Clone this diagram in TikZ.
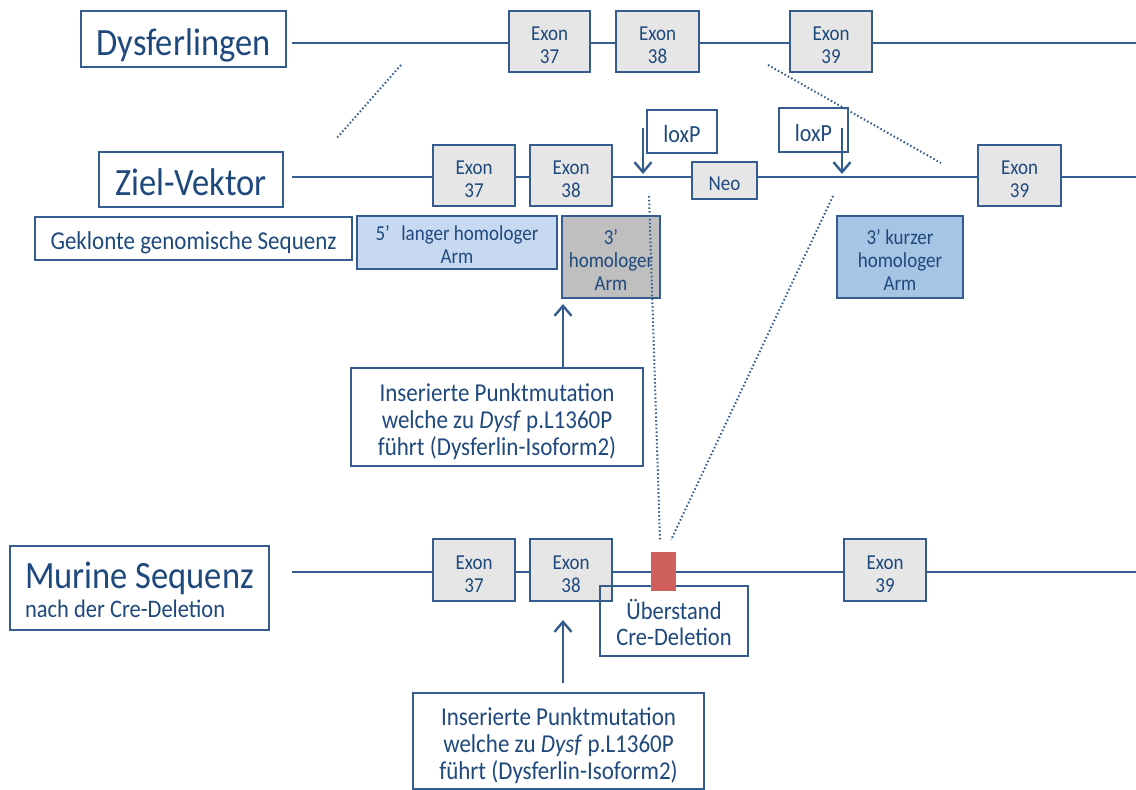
\documentclass[tikz,border=0pt]{standalone}
\usepackage{fontspec}
\usepackage{graphicx}
\setmainfont{Carlito}
\usetikzlibrary{arrows.meta}
\definecolor{bstroke}{RGB}{52,92,142}
\definecolor{btext}{RGB}{31,73,125}
\definecolor{exfill}{RGB}{230,230,230}
\definecolor{lblue}{RGB}{198,217,240}
\definecolor{mblue}{RGB}{166,196,228}
\definecolor{gfill}{RGB}{191,191,191}
\definecolor{rfill}{RGB}{208,96,92}
% text slightly stretched vertically and set a little low, as in the reference
\newcommand\vs[2][6pt]{\raisebox{-#1}[\height][\depth]{\scalebox{1}[1.12]{\begin{tabular}{@{}c@{}}#2\end{tabular}}}}
\newcommand\vsl[2][6.5pt]{\raisebox{-#1}[\height][\depth]{\scalebox{1}[1.12]{\begin{tabular}{@{}l@{}}#2\end{tabular}}}}
\tikzset{
  box/.style={draw=bstroke, line width=2.3pt, inner sep=0pt, text=btext, align=center},
  exon/.style={box, fill=exfill, font=\fontsize{19}{20.5}\selectfont},
  title/.style={box, fill=white, font=\fontsize{34.5}{34}\selectfont},
  note/.style={box, fill=white, font=\fontsize{23}{24.5}\selectfont},
  arm/.style={box, font=\fontsize{19}{20.5}\selectfont},
  lox/.style={box, fill=white, font=\fontsize{22}{24}\selectfont},
  gene/.style={draw=bstroke, line width=2.2pt},
  dots/.style={draw=bstroke, line width=2pt, dash pattern=on 1.5pt off 2.3pt},
  arr/.style={draw=bstroke, line width=2.4pt, -{Straight Barb[length=10pt,width=17pt]}},
}
\begin{document}
\begin{tikzpicture}[x=1pt,y=-1pt]
\fill[white] (0,0) rectangle (1136,790);
\useasboundingbox (0,0) rectangle (1136,790);
% gene line end points
\coordinate (l1s) at (292,43);  \coordinate (l1e) at (1136,43);
\coordinate (l2s) at (292,177); \coordinate (l2e) at (1136,177);
\coordinate (l4s) at (292,572); \coordinate (l4e) at (1136,572);
\draw[gene] (l1s) -- (l1e);
\draw[gene] (l2s) -- (l2e);
\draw[gene] (l4s) -- (l4e);
% row 1
\node[title, minimum width=205pt, minimum height=56pt] (dysf) at (183.5,39) {\vs[8.5pt]{Dysferlingen}};
\node[exon, minimum width=81pt, minimum height=61pt] (e37a) at (549.5,41.5) {\vs{Exon\\37}};
\node[exon, minimum width=83pt, minimum height=61pt] (e38a) at (657.5,41.5) {\vs{Exon\\38}};
\node[exon, minimum width=82pt, minimum height=61pt] (e39a) at (831,41.5) {\vs{Exon\\39}};
% row 2
\node[title, minimum width=184pt, minimum height=55pt] (ziel) at (191,179.5) {\vs[8.5pt]{Ziel-Vektor}};
\node[exon, minimum width=82pt, minimum height=61pt] (e37b) at (474,175.5) {\vs{Exon\\37}};
\node[exon, minimum width=82pt, minimum height=61pt] (e38b) at (571,175.5) {\vs{Exon\\38}};
\node[lox, minimum width=70pt, minimum height=43pt] (lox1) at (682,131.5) {\vs{loxP}};
\node[exon, minimum width=65pt, minimum height=37pt] (neo) at (724.5,180.5) {\vs[5pt]{Neo}};
\node[lox, minimum width=69pt, minimum height=44pt] (lox2) at (813.5,130) {\vs{loxP}};
\node[exon, minimum width=83pt, minimum height=61pt] (e39b) at (1019.5,175.5) {\vs{Exon\\39}};
% row 3
\node[note, minimum width=317pt, minimum height=43pt] (gekl) at (193.5,238.5) {\vs{Geklonte genomische Sequenz}};
\node[arm, fill=lblue, minimum width=200pt, minimum height=53pt] (arm5) at (457,242.5) {\vs[5pt]{5’\hspace{0.6em}langer homologer\\Arm}};
\node[arm, fill=gfill, minimum width=98pt, minimum height=82pt] (arm3) at (611,257) {\vs{3’\\homologer\\Arm}};
\node[arm, fill=mblue, minimum width=126pt, minimum height=82pt] (armk) at (900,257) {\vs{3’ kurzer\\homologer\\Arm}};
\node[note, minimum width=292pt, minimum height=98pt] (ins1) at (497,417) {\vs{Inserierte Punktmutation\\welche zu \textit{Dysf} p.L1360P\\führt (Dysferlin-Isoform2)}};
% row 4
\node[box, fill=white, minimum width=259pt, minimum height=84pt, font=\fontsize{22.5}{26}\selectfont] (mur) at (139.5,588)
      {\vsl{{\fontsize{34.5}{34}\selectfont Murine Sequenz}\\nach der Cre-Deletion}};
\node[exon, minimum width=82pt, minimum height=62pt] (e37c) at (474,570) {\vs{Exon\\37}};
\node[exon, minimum width=82pt, minimum height=62pt] (e38c) at (571,570) {\vs{Exon\\38}};
\node[box, font=\fontsize{22.5}{23.2}\selectfont, minimum width=148pt, minimum height=70pt] (ueber) at (674,621) {\vs[5pt]{Überstand\\Cre-Deletion}};
\node[fill=rfill, inner sep=0pt, minimum width=25pt, minimum height=39pt] (red) at (663.5,571.5) {};
\node[exon, minimum width=82pt, minimum height=62pt] (e39c) at (885,570) {\vs{Exon\\39}};
\node[note, minimum width=291pt, minimum height=96pt] (ins2) at (558.5,741) {\vs{Inserierte Punktmutation\\welche zu \textit{Dysf} p.L1360P\\führt (Dysferlin-Isoform2)}};
% dotted guide lines
\coordinate (d1a) at (401,65);  \coordinate (d1b) at (336,139);
\coordinate (d2a) at (768,65);  \coordinate (d2b) at (941,163);
\coordinate (d3a) at (649,196); \coordinate (d3b) at (660,540);
\coordinate (d4a) at (833,196); \coordinate (d4b) at (671,540);
\draw[dots] (d1a) -- (d1b);
\draw[dots] (d2a) -- (d2b);
\draw[dots] (d3a) -- (d3b);
\draw[dots] (d4a) -- (d4b);
% arrows
\coordinate (a1s) at (643,128); \coordinate (a1e) at (643,174);
\coordinate (a2s) at (842,128); \coordinate (a2e) at (842,174);
\draw[arr] (a1s) -- (a1e);
\draw[arr] (a2s) -- (a2e);
\coordinate (u1s) at (563,368); \coordinate (u1e) at (563,304);
\coordinate (u2s) at (563,683); \coordinate (u2e) at (563,620);
\draw[arr] (u1s) -- (u1e);
\draw[arr] (u2s) -- (u2e);
\end{tikzpicture}
\end{document}
